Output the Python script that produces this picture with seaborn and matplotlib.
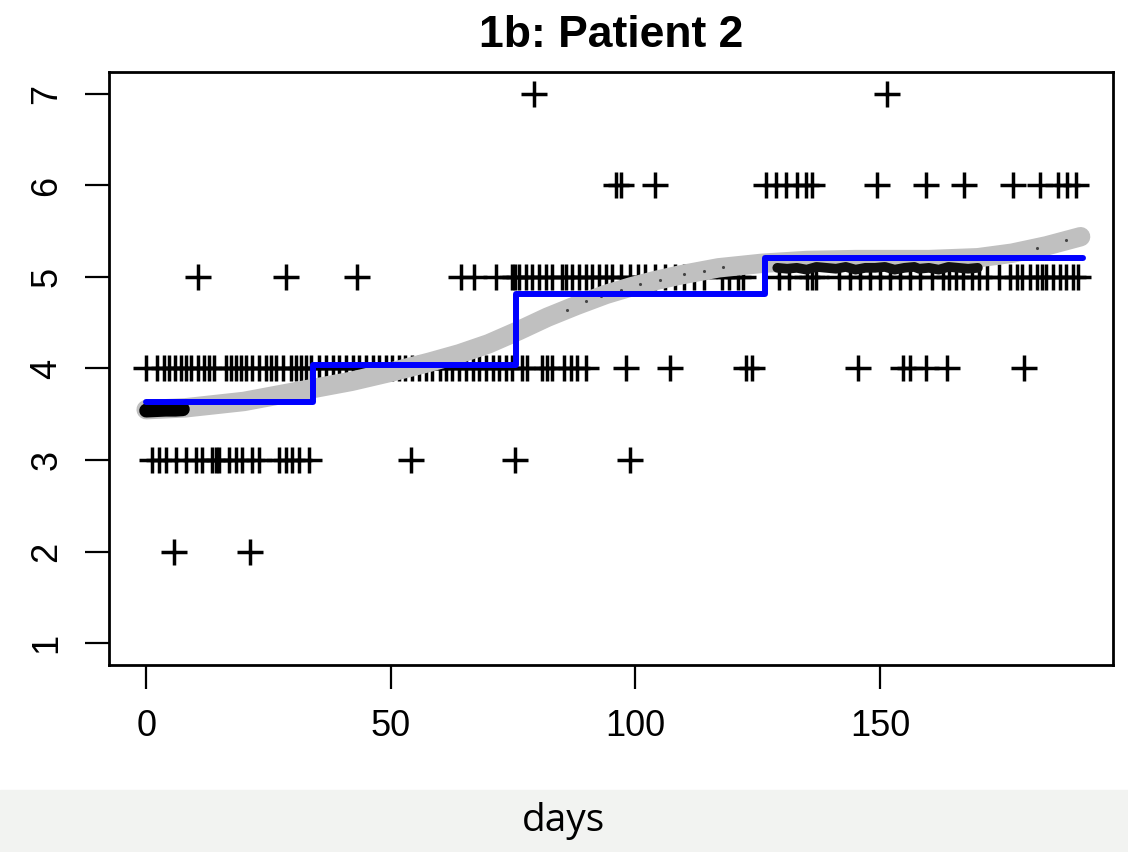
import numpy as np
import pandas as pd
import matplotlib
matplotlib.use("Agg")
import matplotlib.pyplot as plt
import seaborn as sns

# observed scores ('+' marks), one list of days per score level
days_7 = [79.3, 151.5]
days_6 = [96.0, 97.0, 104.0, 126.6, 128.8, 130.7, 133.0, 134.8, 136.2, 149.4,
          159.4, 167.2, 177.2, 182.7, 186.4, 188.2, 190.0]
days_5 = [10.6, 28.6, 43.1, 64.4, 67.1, 71.6, 74.8, 75.3, 76.3, 77.7, 78.9,
          80.4, 81.8, 83.0, 84.9, 85.9, 87.1, 88.5, 90.0, 91.2, 92.6, 94.0,
          95.3, 97.0, 99.0, 100.5, 102.0, 104.0, 106.0, 108.0, 110.0, 112.0,
          114.0, 117.8, 119.2, 120.9, 122.0, 129.4, 131.5, 135.0, 136.0, 137.0,
          141.7, 143.8, 145.9, 147.9, 150.0, 152.0, 154.0, 156.1, 158.1, 160.7,
          162.8, 164.2, 165.6, 166.9, 168.9, 170.3, 171.8, 174.4, 176.5, 177.9,
          179.1, 180.6, 182.0, 183.2, 184.0, 185.3, 186.7, 188.1, 189.4, 190.4]
days_4 = [0.0, 2.3, 3.7, 4.7, 5.8, 7.1, 8.1, 9.2, 10.5, 11.9, 12.9, 13.9, 16.3,
          17.3, 18.3, 19.4, 20.4, 21.7, 23.1, 24.5, 25.5, 26.5, 27.9, 29.6,
          30.6, 31.6, 32.7, 33.7, 35.4, 36.8, 38.2, 39.5, 40.9, 42.3, 43.6,
          45.0, 46.4, 47.6, 49.0, 50.3, 51.7, 53.0, 54.4, 55.8, 57.1, 58.5,
          60.0, 61.3, 62.6, 64.0, 65.4, 66.8, 68.1, 69.5, 70.9, 72.2, 73.6,
          74.8, 76.9, 77.9, 81.0, 82.0, 83.0, 85.5, 86.9, 88.0, 90.0, 98.1,
          107.0, 122.6, 123.8, 145.5, 154.6, 156.2, 159.4, 163.6, 179.4]
days_3 = [1.2, 2.7, 4.1, 6.1, 8.2, 10.2, 11.5, 13.5, 14.3, 14.9, 17.0, 18.4,
          19.6, 21.7, 23.1, 27.2, 28.6, 29.9, 31.3, 33.3, 54.2, 75.3, 98.8]
days_2 = [5.7, 21.3]

# smooth fit (grey band)
smooth_days = [0, 8, 20, 33, 42, 50, 58, 64, 70, 76, 82, 88, 94, 99, 104, 109,
               117, 126, 135, 145, 160, 170, 177, 184, 191]
smooth_vals = [3.55, 3.57, 3.64, 3.77, 3.86, 3.96, 4.07, 4.16, 4.27, 4.41, 4.56,
               4.69, 4.81, 4.89, 4.96, 5.02, 5.10, 5.15, 5.18, 5.19, 5.19, 5.21,
               5.26, 5.34, 5.44]

# fitted points drawn in black
early_fit_days = [0, 2, 4, 6, 7.5]
early_fit_vals = [3.54, 3.545, 3.55, 3.55, 3.555]
late_fit_days = [129, 131, 133, 135, 137, 139, 141, 143, 145, 147, 149, 151, 153,
                 155, 157, 158, 160, 162, 164, 166, 168, 170]
late_fit_vals = [5.10, 5.09, 5.10, 5.08, 5.11, 5.10, 5.09, 5.11, 5.08, 5.10, 5.10,
                 5.11, 5.08, 5.10, 5.11, 5.09, 5.10, 5.08, 5.11, 5.10, 5.09, 5.10]
speck_days = [86, 90, 93, 97, 101, 105, 110, 114, 118, 182, 188]
speck_vals = [4.64, 4.74, 4.79, 4.86, 4.92, 4.97, 5.03, 5.07, 5.11, 5.32, 5.40]

# step function (blue)
step_days = [0, 34.2, 75.5, 126.4, 191.4]
step_vals = [3.63, 4.04, 4.81, 5.21, 5.21]

levels = [(7, days_7), (6, days_6), (5, days_5), (4, days_4), (3, days_3), (2, days_2)]
obs = pd.DataFrame([(d, lv) for lv, ds in levels for d in ds], columns=["day", "score"])

sns.set_style("white")
plt.rcParams['font.family'] = ['Liberation Sans Narrow', 'Liberation Sans', 'DejaVu Sans']
plt.rcParams['text.color'] = 'black'
plt.rcParams['xtick.color'] = 'black'
plt.rcParams['ytick.color'] = 'black'

fig = plt.figure(figsize=(11.28, 8.52), dpi=100)
ax = fig.add_axes([0.0966, 0.2195, 0.89, 0.696])

sns.scatterplot(data=obs, x="day", y="score", marker="+", s=340, linewidth=2.5,
                color="black", ax=ax, zorder=2)
sns.lineplot(x=smooth_days, y=smooth_vals, sort=False, estimator=None, color="#c0c0c0",
             lw=14, solid_capstyle="round", ax=ax, zorder=3)
ax.plot(early_fit_days, early_fit_vals, color="black", lw=10, solid_capstyle="round", zorder=4)
ax.plot(late_fit_days, late_fit_vals, color="#111111", lw=7, zorder=4)
sns.scatterplot(x=speck_days, y=speck_vals, color="#444444", s=5, linewidth=0,
                ax=ax, zorder=4)
ax.plot(step_days, step_vals, drawstyle="steps-post", color="#0000ff", lw=4.3, zorder=5)

ax.set_xlim(-7.6, 197.6)
ax.set_ylim(0.76, 7.24)
ax.set_xticks([0, 50, 100, 150])
ax.set_yticks([1, 2, 3, 4, 5, 6, 7])
ax.tick_params(axis="both", direction="out", length=17, width=1.6, colors="black",
               labelsize=26, pad=15, left=True, bottom=True)
for lab in ax.get_yticklabels():
    lab.set_rotation(90)
    lab.set_verticalalignment("center")
for sp in ax.spines.values():
    sp.set_visible(True)
    sp.set_color("black")
    sp.set_linewidth(2)
ax.set_xlabel("")
ax.set_ylabel("")
ax.set_title("1b: Patient 2", fontsize=32, fontweight="bold", pad=18, color="black")

# grey caption band with x-axis name
fig.patches.append(plt.Rectangle((0, 0), 1, 0.0728, transform=fig.transFigure,
                                 color="#f2f3f1", zorder=0))
fig.text(0.5, 0.036, "days", ha="center", va="center", fontsize=28, color="black",
         family=["Open Sans", "DejaVu Sans"])

fig.savefig("out.png", dpi=100)
